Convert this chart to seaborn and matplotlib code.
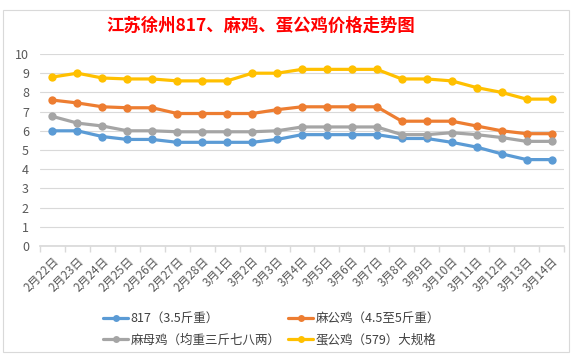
import matplotlib
matplotlib.use("Agg")
import matplotlib.pyplot as plt
import seaborn as sns
import pandas as pd

dates = ["2月22日", "2月23日", "2月24日", "2月25日", "2月26日", "2月27日", "2月28日",
         "3月1日", "3月2日", "3月3日", "3月4日", "3月5日", "3月6日", "3月7日",
         "3月8日", "3月9日", "3月10日", "3月11日", "3月12日", "3月13日", "3月14日"]

s817 = [6.0, 6.0, 5.7, 5.55, 5.55, 5.4, 5.4, 5.4, 5.4, 5.55, 5.8, 5.8, 5.8, 5.8,
        5.6, 5.6, 5.4, 5.15, 4.8, 4.5, 4.5]
ma_gong = [7.6, 7.45, 7.25, 7.2, 7.2, 6.9, 6.9, 6.9, 6.9, 7.1, 7.25, 7.25, 7.25, 7.25,
           6.5, 6.5, 6.5, 6.25, 6.0, 5.85, 5.85]
ma_mu = [6.75, 6.4, 6.25, 6.0, 6.0, 5.95, 5.95, 5.95, 5.95, 6.0, 6.2, 6.2, 6.2, 6.2,
         5.8, 5.8, 5.9, 5.8, 5.65, 5.45, 5.45]
dan_gong = [8.8, 9.0, 8.75, 8.7, 8.7, 8.6, 8.6, 8.6, 9.0, 9.0, 9.2, 9.2, 9.2, 9.2,
            8.7, 8.7, 8.6, 8.25, 8.0, 7.65, 7.65]

names = ["817（3.5斤重）", "麻公鸡（4.5至5斤重）", "麻母鸡（均重三斤七八两）", "蛋公鸡（579）大规格"]
colors = ["#5B9BD5", "#ED7D31", "#A5A5A5", "#FFC000"]

rows = []
for name, vals in zip(names, [s817, ma_gong, ma_mu, dan_gong]):
    for i, v in enumerate(vals):
        rows.append({"idx": i, "price": v, "series": name})
df = pd.DataFrame(rows)

sns.set_theme(style="white")
plt.rcParams['font.family'] = ['Noto Sans CJK SC', 'DejaVu Sans']

fig = plt.figure(figsize=(5.8, 3.6), dpi=100)
ax = fig.add_axes([40 / 580, (360 - 246) / 360, 524 / 580, 192 / 360])

sns.lineplot(data=df, x="idx", y="price", hue="series", palette=dict(zip(names, colors)),
             hue_order=names, marker="o", markersize=6, markeredgewidth=0,
             linewidth=2.3, ax=ax, legend=False)

ax.set_xlim(-0.5, len(dates) - 0.5)
ax.set_ylim(0, 10)
ax.set_yticks(range(0, 11))
ax.yaxis.grid(True, color="#D9D9D9", linewidth=0.8)
ax.set_axisbelow(True)
for sp in ["top", "right", "left"]:
    ax.spines[sp].set_visible(False)
ax.spines["bottom"].set_color("#D9D9D9")
ax.set_xticks(range(len(dates)))
ax.set_xticklabels(dates, rotation=45, ha="right", rotation_mode="anchor")
ax.set_xticks([i - 0.5 for i in range(len(dates) + 1)], minor=True)
ax.tick_params(axis="x", which="major", length=0, labelsize=8.5, colors="#595959", pad=6)
ax.tick_params(axis="x", which="minor", length=4, color="#D9D9D9", bottom=True)
ax.tick_params(axis="y", length=0, labelsize=9, colors="#595959", pad=8)
ax.set_xlabel("")
ax.set_ylabel("")

fig.text(0.45, 0.928, "江苏徐州817、麻鸡、蛋公鸡价格走势图", ha="center", va="center",
         fontsize=12.5, fontweight="bold", color="#FF0000")

handles = [plt.Line2D([], [], color=c, marker="o", markersize=5, markeredgewidth=0, linewidth=2.3)
           for c in colors]
order = [0, 2, 1, 3]
fig.legend([handles[i] for i in order], [names[i] for i in order], ncol=2,
           loc="center", bbox_to_anchor=(0.468, 0.085), frameon=False, fontsize=9,
           handlelength=2.0, handletextpad=0.2, columnspacing=0.6, labelspacing=0.7,
           labelcolor="#404040")

fig.patches.append(plt.Rectangle((3 / 580, 8 / 360), 566 / 580, 342 / 360, transform=fig.transFigure,
                                 fill=False, edgecolor="#D9D9D9", linewidth=0.8))

fig.savefig("out.png", dpi=100, facecolor="white")
